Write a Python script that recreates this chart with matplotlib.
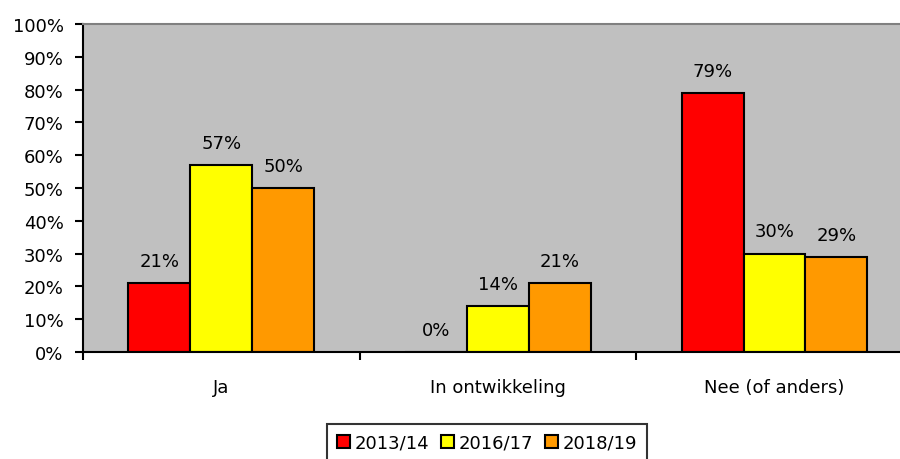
import numpy as np
import matplotlib.pyplot as plt

categories = ["Ja", "In ontwikkeling", "Nee (of anders)"]
series = ["2013/14", "2016/17", "2018/19"]
v2013 = [21, 0, 79]
v2016 = [57, 14, 30]
v2018 = [50, 21, 29]
colors = ["#FF0000", "#FFFF00", "#FF9900"]

fs = 13

fig = plt.figure(figsize=(9, 4.6), dpi=100)
# plot area runs a little past the right edge, as in the original
ax = fig.add_axes([0.0922, 0.2326, 0.922, 0.7131])
ax.set_facecolor("#C0C0C0")

x = np.arange(len(categories))
w = 0.224
for i, (vals, name) in enumerate(zip([v2013, v2016, v2018], series)):
    pos = x + (i - 1) * w
    bars = ax.bar(pos, vals, w, color=colors[i], edgecolor="black", linewidth=1.5, label=name)
    for b, v in zip(bars, vals):
        ax.text(b.get_x() + b.get_width() / 2, v + 4, f"{v}%", ha="center", va="bottom", fontsize=fs)

ax.set_xlim(-0.5, 2.5)
ax.set_ylim(0, 100)
ax.set_yticks(range(0, 101, 10))
ax.set_yticklabels([f"{t}%" for t in range(0, 101, 10)], fontsize=fs)
ax.set_xticks([-0.5, 0.5, 1.5, 2.5])
ax.set_xticklabels([])
ax.set_xticks(x, minor=True)
ax.set_xticklabels(categories, minor=True, fontsize=fs)
ax.tick_params(axis="x", which="minor", length=0, pad=19)
ax.tick_params(axis="x", which="major", length=6, width=1.5, direction="out")
ax.tick_params(axis="y", length=6, width=1.5, direction="out", pad=8)

for s in ["left", "bottom"]:
    ax.spines[s].set_linewidth(1.5)
    ax.spines[s].set_color("black")
ax.spines["top"].set_color("#808080")
ax.spines["top"].set_linewidth(1.5)
ax.spines["right"].set_visible(False)

leg = fig.legend(loc="upper center", bbox_to_anchor=(0.541, 0.076), ncol=3, fontsize=fs,
                 frameon=True, fancybox=False, edgecolor="black", handlelength=0.72, handleheight=0.72,
                 handletextpad=0.25, columnspacing=0.65, borderpad=0.55, borderaxespad=0)
leg.get_frame().set_linewidth(1.5)

fig.savefig("out.png", dpi=100)
